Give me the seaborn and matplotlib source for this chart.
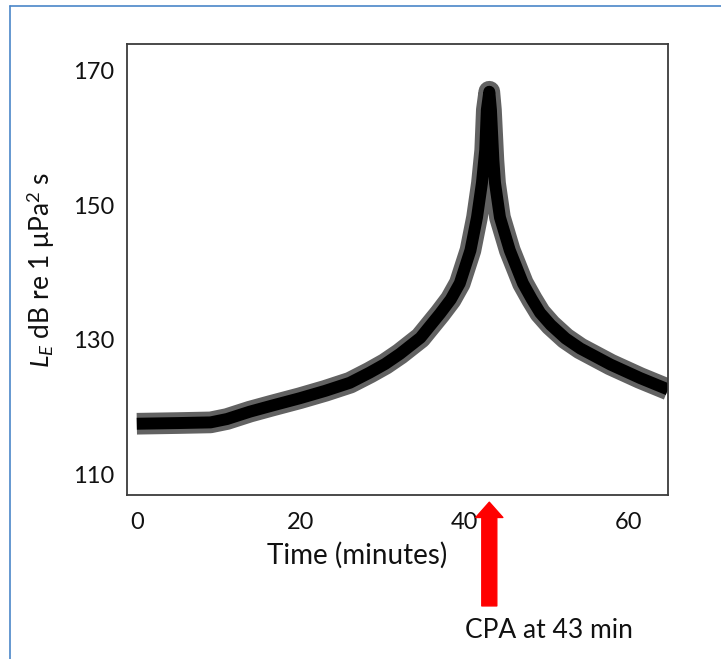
import numpy as np
import pandas as pd
import seaborn as sns
import matplotlib.pyplot as plt
from matplotlib.lines import Line2D

# Sound exposure level over time
time_min = [0, 5, 9, 11, 13.8, 16.5, 19.9, 23.0, 26.0, 28.4, 30.3, 32.1,
            34.6, 37.0, 38.3, 39.4, 40.7, 41.5, 42.1, 42.5, 42.7, 43.0,
            43.2, 43.5, 43.7, 44.3, 45.5, 47.1, 48.2, 49.2, 50.5, 52.3,
            54.1, 57.8, 61.4, 64.8]
level_db = [117.5, 117.6, 117.7, 118.2, 119.3, 120.2, 121.3, 122.4, 123.6,
            125.1, 126.4, 127.9, 130.3, 133.9, 136.0, 138.4, 143.3, 148.2,
            153.3, 158.2, 164.2, 166.9, 164.2, 156.7, 153.3, 148.2, 143.3,
            138.4, 136.0, 134.0, 132.2, 130.2, 128.7, 126.3, 124.3, 122.6]
cpa_time = 43
x_ticks = [0, 20, 40, 60]
y_ticks = [110, 130, 150, 170]

data = pd.DataFrame({"time": time_min, "level": level_db})

sns.set_theme(style="white")
plt.rcParams["font.family"] = ["Lato", "DejaVu Sans"]
plt.rcParams["mathtext.fontset"] = "custom"
plt.rcParams["mathtext.rm"] = "Lato"
plt.rcParams["mathtext.it"] = "Lato:italic"

fig = plt.figure(figsize=(7.21, 6.59), dpi=100)
ax = fig.add_axes([0.1761, 0.2489, 0.7504, 0.6843])

# thick line with grey edge: grey underneath, black on top
sns.lineplot(data=data, x="time", y="level", ax=ax, color="#626262",
             linewidth=15.6, solid_joinstyle="round", solid_capstyle="butt")
sns.lineplot(data=data, x="time", y="level", ax=ax, color="black",
             linewidth=8.6, solid_joinstyle="round", solid_capstyle="butt")

ax.set_xlim(-1.2, 64.8)
ax.set_ylim(106.9, 174.0)
ax.set_xticks(x_ticks)
ax.set_yticks(y_ticks)
ax.tick_params(length=0, labelsize=17, colors="#111111")
ax.tick_params(axis="x", pad=12)
ax.tick_params(axis="y", pad=9)
for side in ax.spines.values():
    side.set_color("#3c3c3c")
    side.set_linewidth(1.3)

ax.set_xlabel("Time (minutes)", fontsize=20, color="#111111")
ax.xaxis.set_label_coords(0.425, -0.105)
ax.set_ylabel(r"$L_E$ dB re 1 μPa$^2$ s", fontsize=19, color="#111111")
ax.yaxis.set_label_coords(-0.13, 0.5)

# red arrow pointing at the closest point of approach
ax.annotate("", xy=(cpa_time, -0.016), xycoords=("data", "axes fraction"),
            xytext=(cpa_time, -0.246), textcoords=("data", "axes fraction"),
            arrowprops=dict(color="#ff0000", width=10.8, headwidth=19.5,
                            headlength=11, shrink=0), annotation_clip=False)
fig.text(549 / 721, 1 - 630 / 659, f"CPA at {cpa_time} min", fontsize=19,
         ha="center", va="center", color="#111111")

# blue frame on the left and top edge of the picture
fig.add_artist(Line2D([10 / 721, 10 / 721], [0, 1 - 6 / 659],
                      transform=fig.transFigure, color="#4a86c8", lw=1.2))
fig.add_artist(Line2D([10 / 721, 1], [1 - 6 / 659, 1 - 6 / 659],
                      transform=fig.transFigure, color="#4a86c8", lw=1.2))

fig.savefig("out.png", dpi=100)
